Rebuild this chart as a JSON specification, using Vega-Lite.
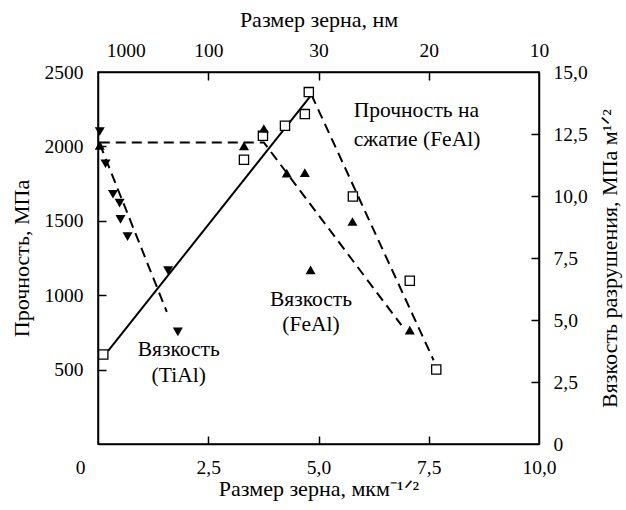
{
  "$schema": "https://vega.github.io/schema/vega-lite/v6.json",
  "width": 441,
  "height": 372,
  "autosize": "none",
  "padding": {"left": 98, "top": 72, "right": 87, "bottom": 66},
  "config": {
    "font": "Liberation Serif",
    "view": {"stroke": "black", "strokeWidth": 1.5},
    "axis": {
      "labelFont": "Liberation Serif",
      "titleFont": "Liberation Serif",
      "labelFontSize": 19.5, "titleFontSize": 22, "titleFontWeight": "normal",
      "labelColor": "black", "titleColor": "black",
      "domainColor": "black", "tickColor": "black", "tickWidth": 1.5, "domainWidth": 1.5,
      "grid": false, "labelFlush": false, "labelOverlap": false
    }
  },
  "datasets": {
    "squares": [
      {"x": 0.12, "s": 602}, {"x": 3.31, "s": 1910}, {"x": 3.74, "s": 2071},
      {"x": 4.24, "s": 2139}, {"x": 4.69, "s": 2217}, {"x": 4.78, "s": 2365},
      {"x": 5.78, "s": 1663}, {"x": 7.07, "s": 1097}, {"x": 7.67, "s": 501}
    ],
    "triUp": [
      {"x": 0.04, "t": 12.04}, {"x": 3.31, "t": 12.02}, {"x": 3.76, "t": 12.72},
      {"x": 4.28, "t": 10.92}, {"x": 4.69, "t": 10.94}, {"x": 5.77, "t": 8.97},
      {"x": 4.82, "t": 7.02}, {"x": 7.07, "t": 4.59}
    ],
    "triDown": [
      {"x": 0.04, "t": 12.6}, {"x": 0.17, "t": 11.3}, {"x": 0.34, "t": 10.07},
      {"x": 0.49, "t": 9.71}, {"x": 0.51, "t": 9.06}, {"x": 0.67, "t": 8.36},
      {"x": 1.59, "t": 6.99}, {"x": 1.81, "t": 4.52}
    ],
    "solidLine": [{"x": 0.23, "s": 626}, {"x": 4.84, "s": 2347}],
    "dashStrength": [{"x": 4.84, "s": 2347}, {"x": 7.61, "s": 563}],
    "dashFeAl": [{"x": 0.04, "t": 12.16}, {"x": 3.76, "t": 12.16}, {"x": 6.88, "t": 4.79}],
    "dashTiAl": [{"x": 0.04, "t": 12.1}, {"x": 1.56, "t": 5.33}],
    "labelsLeft": [
      {"x": 5.8, "s": 2235, "text": "Прочность на"},
      {"x": 5.8, "s": 2044, "text": "сжатие (FeAl)"}
    ],
    "labelsCenter": [
      {"x": 4.83, "s": 966, "text": "Вязкость"},
      {"x": 4.83, "s": 798, "text": "(FeAl)"},
      {"x": 1.83, "s": 635, "text": "Вязкость"},
      {"x": 1.83, "s": 456, "text": "(TiAl)"}
    ]
  },
  "resolve": {"scale": {"y": "independent"}, "axis": {"x": "independent", "y": "independent"}},
  "layer": [
    {
      "data": {"name": "solidLine"},
      "mark": {"type": "line", "color": "black", "strokeWidth": 2},
      "encoding": {
        "x": {"field": "x", "type": "quantitative", "scale": {"domain": [0, 10], "nice": false},
          "axis": {"orient": "bottom", "values": [0, 2.5, 5, 7.5, 10], "ticks": false,
            "labelExpr": "datum.value == 0 ? '0' : replace(format(datum.value, '.1f'), '.', ',')",
            "labelOffset": {"condition": {"test": "datum.value == 0", "value": -18}, "value": 0},
            "labelPadding": 14, "title": "Размер зерна, мкм⁻¹ᐟ²", "titlePadding": 2}},
        "y": {"field": "s", "type": "quantitative", "scale": {"domain": [0, 2500], "nice": false},
          "axis": {"orient": "left", "values": [500, 1000, 1500, 2000, 2500], "ticks": false, "format": "d",
            "labelPadding": 15, "title": "Прочность, МПа", "titlePadding": 11}}
      }
    },
    {
      "data": {"name": "dashStrength"},
      "mark": {"type": "line", "color": "black", "strokeWidth": 2, "strokeDash": [10, 6]},
      "encoding": {
        "x": {"field": "x", "type": "quantitative", "scale": {"domain": [0, 10], "nice": false},
          "axis": {"orient": "top", "values": [0.63, 2.5, 5, 7.5, 10], "ticks": false,
            "labelExpr": "datum.value < 1 ? '1000' : datum.value < 3 ? '100' : datum.value < 6 ? '30' : datum.value < 8 ? '20' : '10'",
            "labelPadding": 12, "title": "Размер зерна, нм", "titlePadding": 9}},
        "y": {"field": "s", "type": "quantitative", "scale": {"domain": [0, 2500], "nice": false},
          "axis": {"orient": "left", "values": [500, 1000, 1500, 2000], "offset": -8, "tickSize": 8,
            "labels": false, "domain": false, "title": null}}
      }
    },
    {
      "data": {"name": "squares"},
      "mark": {"type": "point", "shape": "square", "size": 85, "filled": true, "fill": "white", "stroke": "black", "strokeWidth": 1.3, "opacity": 1},
      "encoding": {
        "x": {"field": "x", "type": "quantitative", "scale": {"domain": [0, 10], "nice": false},
          "axis": {"orient": "bottom", "values": [2.5, 5, 7.5], "offset": -8, "tickSize": 8,
            "labels": false, "domain": false, "title": null}},
        "y": {"field": "s", "type": "quantitative", "scale": {"domain": [0, 2500], "nice": false}, "axis": null}
      }
    },
    {
      "data": {"name": "dashFeAl"},
      "mark": {"type": "line", "color": "black", "strokeWidth": 2, "strokeDash": [10, 6]},
      "encoding": {
        "x": {"field": "x", "type": "quantitative", "scale": {"domain": [0, 10], "nice": false},
          "axis": {"orient": "top", "values": [2.5, 5, 7.5], "offset": -8, "tickSize": 8,
            "labels": false, "domain": false, "title": null}},
        "y": {"field": "t", "type": "quantitative", "scale": {"domain": [0, 15], "nice": false},
          "axis": {"orient": "right", "values": [0, 2.5, 5, 7.5, 10, 12.5, 15], "ticks": false,
            "labelExpr": "datum.value == 0 ? '0' : replace(format(datum.value, '.1f'), '.', ',')",
            "labelPadding": 14, "title": "Вязкость разрушения, МПа м¹ᐟ²", "titleAngle": 270, "titleBaseline": "top", "titlePadding": 12}}
      }
    },
    {
      "data": {"name": "dashTiAl"},
      "mark": {"type": "line", "color": "black", "strokeWidth": 2, "strokeDash": [10, 6]},
      "encoding": {
        "x": {"field": "x", "type": "quantitative", "scale": {"domain": [0, 10], "nice": false}, "axis": null},
        "y": {"field": "t", "type": "quantitative", "scale": {"domain": [0, 15], "nice": false},
          "axis": {"orient": "right", "values": [2.5, 5, 7.5, 10, 12.5], "offset": -8, "tickSize": 8,
            "labels": false, "domain": false, "title": null}}
      }
    },
    {
      "data": {"name": "triUp"},
      "mark": {"type": "point", "shape": "triangle-up", "size": 100, "filled": true, "color": "black", "opacity": 1},
      "encoding": {
        "x": {"field": "x", "type": "quantitative", "scale": {"domain": [0, 10], "nice": false}, "axis": null},
        "y": {"field": "t", "type": "quantitative", "scale": {"domain": [0, 15], "nice": false}, "axis": null}
      }
    },
    {
      "data": {"name": "triDown"},
      "mark": {"type": "point", "shape": "triangle-down", "size": 100, "filled": true, "color": "black", "opacity": 1},
      "encoding": {
        "x": {"field": "x", "type": "quantitative", "scale": {"domain": [0, 10], "nice": false}, "axis": null},
        "y": {"field": "t", "type": "quantitative", "scale": {"domain": [0, 15], "nice": false}, "axis": null}
      }
    },
    {
      "data": {"name": "labelsLeft"},
      "mark": {"type": "text", "fontSize": 21.5, "color": "black", "baseline": "middle", "align": "left", "font": "Liberation Serif"},
      "encoding": {
        "x": {"field": "x", "type": "quantitative", "scale": {"domain": [0, 10], "nice": false}, "axis": null},
        "y": {"field": "s", "type": "quantitative", "scale": {"domain": [0, 2500], "nice": false}, "axis": null},
        "text": {"field": "text"}
      }
    },
    {
      "data": {"name": "labelsCenter"},
      "mark": {"type": "text", "fontSize": 21.5, "color": "black", "baseline": "middle", "align": "center", "font": "Liberation Serif"},
      "encoding": {
        "x": {"field": "x", "type": "quantitative", "scale": {"domain": [0, 10], "nice": false}, "axis": null},
        "y": {"field": "s", "type": "quantitative", "scale": {"domain": [0, 2500], "nice": false}, "axis": null},
        "text": {"field": "text"}
      }
    }
  ]
}
